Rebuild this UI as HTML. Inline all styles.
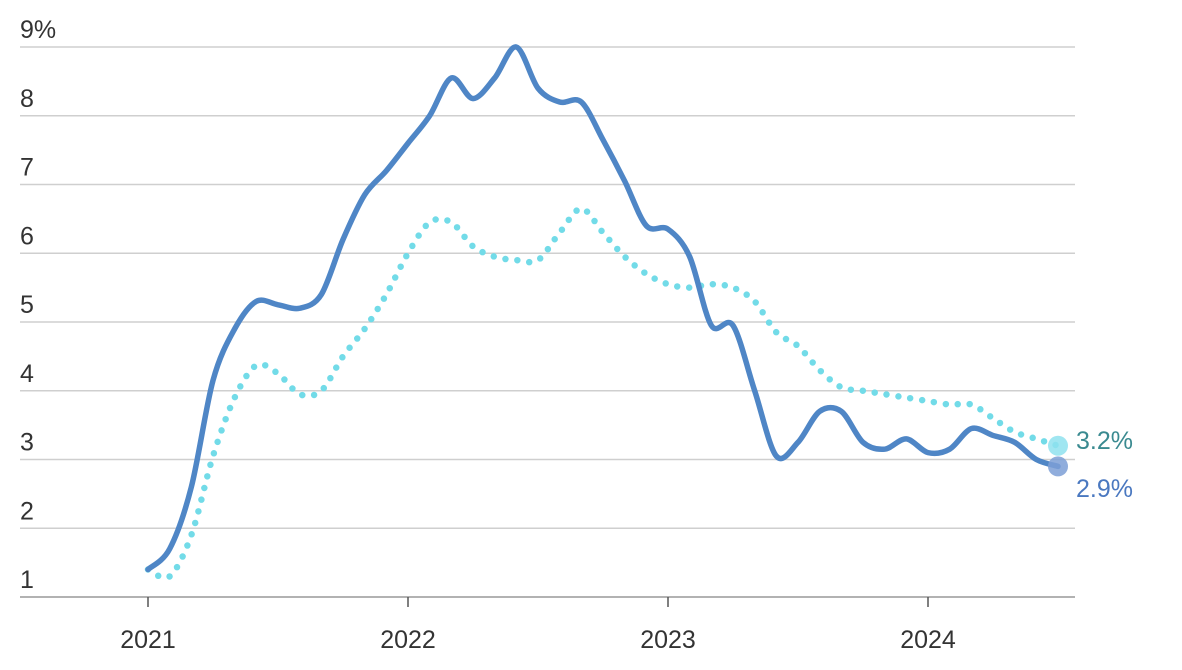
<!DOCTYPE html>
<html><head><meta charset="utf-8"><style>
html,body{margin:0;padding:0;background:#fff;}
svg{display:block;font-family:"Liberation Sans",sans-serif;}
</style></head><body>
<svg id="chart" width="1182" height="670" viewBox="0 0 1182 670"></svg>
<script>
const yTicks = [1,2,3,4,5,6,7,8,9];
const yearLabels = ["2021","2022","2023","2024"];
const headline = [1.4,1.7,2.6,4.15,4.9,5.3,5.25,5.2,5.4,6.2,6.85,7.2,7.6,8.0,8.55,8.25,8.55,9.0,8.4,8.2,8.2,7.65,7.05,6.4,6.35,5.95,4.95,4.95,4.0,3.05,3.25,3.7,3.7,3.25,3.15,3.3,3.1,3.15,3.45,3.35,3.25,3.0,2.9];
const core = [1.4,1.3,1.9,3.05,3.9,4.37,4.25,3.95,4.0,4.5,4.9,5.4,6.0,6.45,6.45,6.1,5.95,5.9,5.9,6.3,6.65,6.3,5.95,5.7,5.55,5.5,5.55,5.5,5.3,4.85,4.65,4.3,4.05,4.0,3.95,3.9,3.85,3.8,3.8,3.6,3.4,3.3,3.2];
const endLabels = ["3.2%","2.9%"];

const NS="http://www.w3.org/2000/svg";
const svg=document.getElementById('chart');
const xScale=i=>148+i*(260/12);
const yScale=v=>597-(v-1)*68.75;
function mk(tag,attrs,parent){const e=document.createElementNS(NS,tag);for(const k in attrs)e.setAttribute(k,attrs[k]);(parent||svg).appendChild(e);return e;}

yTicks.forEach((t,i)=>{
  if(t>1){const g=mk('line',{x1:20,x2:1075,y1:yScale(t),y2:yScale(t),stroke:'#cfcfcf','stroke-width':1.5});
  
  }
  const tx=mk('text',{x:20,y:yScale(t)-9,'font-size':25,fill:'#333'});
  tx.textContent=t===9?'9%':String(t);
  
  
});
const ax=mk('line',{x1:20,x2:1075,y1:597,y2:597,stroke:'#999','stroke-width':1.5});


yearLabels.forEach((y,i)=>{
  const x=xScale(i*12);
  const tk=mk('line',{x1:x,x2:x,y1:597,y2:607,stroke:'#555','stroke-width':1.5});
  
  
  const tx=mk('text',{x:x,y:648,'font-size':25,fill:'#333','text-anchor':'middle'});
  tx.textContent=y;
  
  
});
function smoothPath(vals){
  const p=vals.map((v,i)=>[xScale(i),yScale(v)]);
  let d='M'+p[0][0]+','+p[0][1];
  for(let i=0;i<p.length-1;i++){
    const p0=p[i-1]||p[i],p1=p[i],p2=p[i+1],p3=p[i+2]||p2;
    const t=0.16;
    d+=' C'+(p1[0]+(p2[0]-p0[0])*t)+','+(p1[1]+(p2[1]-p0[1])*t)+' '+(p2[0]-(p3[0]-p1[0])*t)+','+(p2[1]-(p3[1]-p1[1])*t)+' '+p2[0]+','+p2[1];
  }
  return d;
}
const cl=mk('path',{d:smoothPath(core),fill:'none',stroke:'#72dbe8','stroke-width':6.5,'stroke-linecap':'round','stroke-dasharray':'0 12'});


const hl=mk('path',{d:smoothPath(headline),fill:'none',stroke:'#4f86c6','stroke-width':5.5,'stroke-linecap':'round'});


const n=headline.length-1;
const c1=mk('circle',{cx:xScale(n),cy:yScale(core[n]),r:10,fill:'#8fe2ee',opacity:0.85});


const c2=mk('circle',{cx:xScale(n),cy:yScale(headline[n]),r:10,fill:'#7d9fd6',opacity:0.85});


const l1=mk('text',{x:1076,y:449,'font-size':25,fill:'#3a8a90'});
l1.textContent=endLabels[0];


const l2=mk('text',{x:1076,y:497,'font-size':25,fill:'#4a78c0'});
l2.textContent=endLabels[1];


</script>
</body></html>
